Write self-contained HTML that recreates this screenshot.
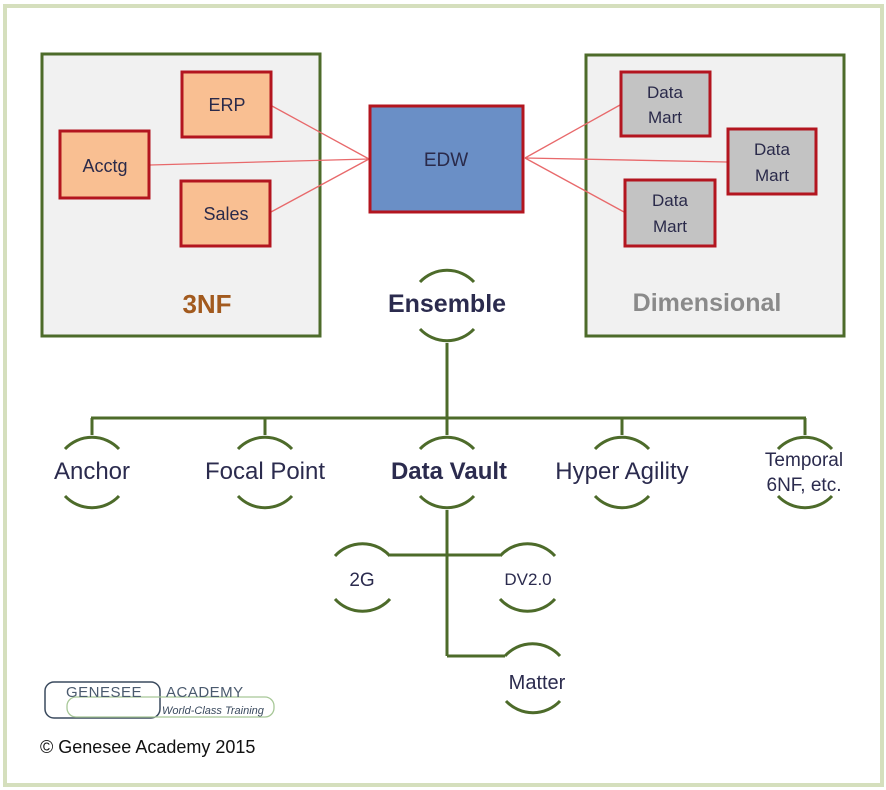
<!DOCTYPE html>
<html><head><meta charset="utf-8"><style>
html,body{margin:0;padding:0;background:#fff;}
svg{display:block;}
text{font-family:"Liberation Sans",sans-serif;}
</style></head><body>
<svg width="886" height="790" viewBox="0 0 886 790" xmlns="http://www.w3.org/2000/svg">
<rect x="0" y="0" width="886" height="790" fill="#fff"/>
<rect x="5" y="6" width="877" height="779" fill="#fff" stroke="#d5dfbd" stroke-width="4"/>

<!-- 3NF box -->
<rect x="42" y="54" width="278" height="282" fill="#f1f1f1" stroke="#4d6b2a" stroke-width="3"/>
<!-- Dimensional box -->
<rect x="586" y="55" width="258" height="281" fill="#f1f1f1" stroke="#4d6b2a" stroke-width="3"/>

<!-- red lines -->
<g stroke="#e8696b" stroke-width="1.3">
<line x1="272" y1="106" x2="369" y2="159"/>
<line x1="150" y1="165" x2="369" y2="159"/>
<line x1="271" y1="212" x2="369" y2="159"/>
<line x1="525" y1="158" x2="620" y2="105"/>
<line x1="525" y1="158" x2="727" y2="162"/>
<line x1="525" y1="158" x2="624" y2="212"/>
</g>

<g stroke="#b3151f" stroke-width="3">
<rect x="182" y="72" width="89" height="65" fill="#f9bf92"/>
<rect x="60" y="131" width="89" height="67" fill="#f9bf92"/>
<rect x="181" y="181" width="89" height="65" fill="#f9bf92"/>
<rect x="370" y="106" width="153" height="106" fill="#6a8fc6"/>
<rect x="621" y="72" width="89" height="64" fill="#c3c3c3"/>
<rect x="728" y="129" width="88" height="65" fill="#c3c3c3"/>
<rect x="625" y="180" width="90" height="66" fill="#c3c3c3"/>
</g>

<g fill="#2a2a4a" font-size="18" text-anchor="middle">
<text x="227" y="111">ERP</text>
<text x="105" y="172">Acctg</text>
<text x="226" y="220">Sales</text>
<text x="446" y="166" font-size="19">EDW</text>
<text x="665" y="98" font-size="17">Data</text>
<text x="665" y="123" font-size="17">Mart</text>
<text x="772" y="155" font-size="17">Data</text>
<text x="772" y="181" font-size="17">Mart</text>
<text x="670" y="206" font-size="17">Data</text>
<text x="670" y="232" font-size="17">Mart</text>
</g>
<text x="207" y="313" font-size="26" font-weight="bold" fill="#a25a1e" text-anchor="middle">3NF</text>
<text x="707" y="311" font-size="25" font-weight="bold" fill="#8a8a8a" text-anchor="middle">Dimensional</text>

<!-- tree lines -->
<g stroke="#4d6b2a" stroke-width="3" fill="none">
<line x1="447" y1="343" x2="447" y2="418"/>
<line x1="91" y1="418" x2="806" y2="418"/>
<line x1="92" y1="418" x2="92" y2="435"/>
<line x1="265" y1="418" x2="265" y2="435"/>
<line x1="447" y1="418" x2="447" y2="435"/>
<line x1="622" y1="418" x2="622" y2="435"/>
<line x1="805" y1="418" x2="805" y2="435"/>
<line x1="447" y1="510" x2="447" y2="656"/>
<line x1="390" y1="555" x2="500" y2="555"/>
<line x1="447" y1="656" x2="505" y2="656"/>
</g>

<!-- arcs: circle r=37 -->
<g stroke="#4d6b2a" stroke-width="3" fill="none">
<path d="M420 282 A37 37 0 0 1 474 282"/><path d="M420 329 A37 37 0 0 0 474 329"/>
<path d="M65 449 A37 37 0 0 1 119 449"/><path d="M65 496 A37 37 0 0 0 119 496"/>
<path d="M238 449 A37 37 0 0 1 292 449"/><path d="M238 496 A37 37 0 0 0 292 496"/>
<path d="M420 449 A37 37 0 0 1 474 449"/><path d="M420 496 A37 37 0 0 0 474 496"/>
<path d="M595 449 A37 37 0 0 1 649 449"/><path d="M595 496 A37 37 0 0 0 649 496"/>
<path d="M778 449 A37 37 0 0 1 832 449"/><path d="M778 496 A37 37 0 0 0 832 496"/>
<path d="M335 556 A37 37 0 0 1 390 556"/><path d="M335 599 A37 37 0 0 0 390 599"/>
<path d="M500 556 A37 37 0 0 1 555 556"/><path d="M500 599 A37 37 0 0 0 555 599"/>
<path d="M505 656 A37 37 0 0 1 560 656"/><path d="M506 701 A37 37 0 0 0 560 701"/>
</g>

<g fill="#2b2b4e" text-anchor="middle">
<text x="447" y="312" font-size="25" font-weight="bold">Ensemble</text>
<text x="92" y="479" font-size="24">Anchor</text>
<text x="265" y="479" font-size="24">Focal Point</text>
<text x="449" y="479" font-size="24" font-weight="bold">Data Vault</text>
<text x="622" y="479" font-size="24">Hyper Agility</text>
<text x="804" y="466" font-size="19">Temporal</text>
<text x="804" y="491" font-size="19">6NF, etc.</text>
<text x="362" y="586" font-size="19">2G</text>
<text x="528" y="585" font-size="17">DV2.0</text>
<text x="537" y="689" font-size="20">Matter</text>
</g>

<!-- logo -->
<rect x="45" y="682" width="115" height="36" rx="9" fill="none" stroke="#3a4a5e" stroke-width="1.5"/>
<rect x="67" y="697" width="207" height="20" rx="9" fill="none" stroke="#a8c898" stroke-width="1.3"/>
<text x="66" y="697" font-size="15" fill="#4a5a6e" letter-spacing="0.5">GENESEE</text>
<text x="166" y="697" font-size="15" fill="#4a5a6e" letter-spacing="0.5">ACADEMY</text>
<text x="162" y="714" font-size="11" font-style="italic" fill="#3a4a5e">World-Class Training</text>

<text x="40" y="753" font-size="18" fill="#111">© Genesee Academy 2015</text>
</svg>
</body></html>
